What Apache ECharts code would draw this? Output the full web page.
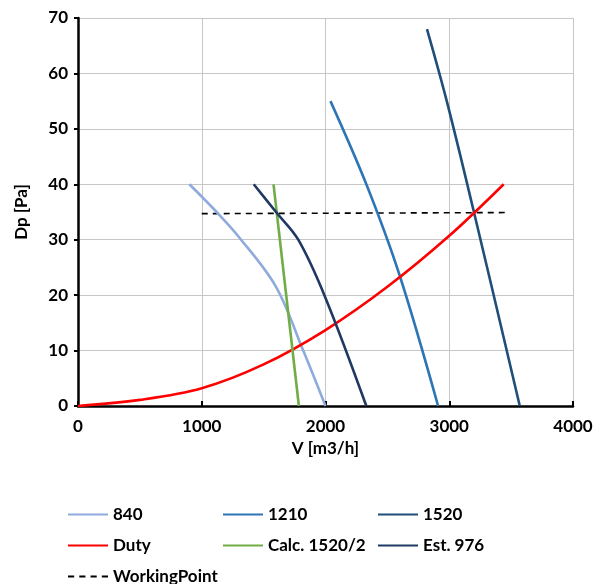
<!DOCTYPE html>
<html>
<head>
<meta charset="utf-8">
<script src="https://cdn.jsdelivr.net/npm/echarts@6/dist/echarts.min.js"></script>
<style>html,body{margin:0;padding:0;background:#fff}#c{width:602px;height:584px}</style>
</head>
<body>
<div id="c"></div>
<script>
var xTicks = [0, 1000, 2000, 3000, 4000];
var yTicks = [0, 10, 20, 30, 40, 50, 60, 70];
var s840 = [[900,40],[1120,35],[1300,30.5],[1600,21.5],[1820,10],[2000,0]];
var s1210 = [[2040,55],[2330,40],[2600,23.5],[2910,0]];
var s1520 = [[2820,68],[2980,55],[3195,35.4],[3570,0]];
var sDuty = [[0,0],[500,1.1],[1000,3.2],[1500,7.5],[2000,13.7],[2500,21.5],[3000,30.7],[3440,40]];
var sCalc = [[1580,40],[1785,0]];
var sEst = [[1420,40],[1600,35],[1780,30],[2000,19.5],[2330,0]];
var sWork = [[1000,34.7],[3480,34.9]];

var FONT = 'Lato';
var names = ['840','1210','1520','Duty','Calc. 1520/2','Est. 976','WorkingPoint'];
var colors = ['#8FAADC','#2E75B6','#1F4E79','#FF0000','#70AD47','#203864','#000000'];
var datas = [s840, s1210, s1520, sDuty, sCalc, sEst, sWork];
var legendPos = [[63,501],[218,501],[373,501],[63,532],[218,532],[373,532],[63,563]];

var series = names.map(function(n, i){
  return {
    name: n, type: 'line', data: datas[i], showSymbol: false, symbol: 'none',
    smooth: (i === 4 || i === 6) ? false : 0.35,
    lineStyle: { color: colors[i], width: i === 6 ? 1.6 : 2.6, type: i === 6 ? [6,5] : 'solid' },
    itemStyle: { color: colors[i] },
    z: i === 6 ? 1 : 2
  };
});
var legends = names.map(function(n, i){
  return {
    data: [n], left: legendPos[i][0], top: legendPos[i][1], itemWidth: 40, itemHeight: 14, itemGap: 6,
    icon: 'path://M0,6L40,6L40,8L0,8Z',
    textStyle: { fontFamily: FONT, fontWeight: 'bold', fontSize: 17, color: '#000' },
    selectedMode: false
  };
});
legends[6].icon = 'path://M0,6L6,6L6,8L0,8ZM11,6L17,6L17,8L11,8ZM22,6L28,6L28,8L22,8ZM33,6L39,6L39,8L33,8Z';

var chart = echarts.init(document.getElementById('c'), null, {renderer: 'canvas'});
chart.setOption({
  animation: false,
  backgroundColor: '#fff',
  grid: { left: 78, right: 29, top: 18, bottom: 178, containLabel: false },
  legend: legends,
  xAxis: {
    type: 'value', min: xTicks[0], max: xTicks[xTicks.length-1], interval: 1000,
    name: 'V [m3/h]', nameLocation: 'middle', nameGap: 33,
    nameTextStyle: { fontFamily: FONT, fontWeight: 'bold', fontSize: 17, color: '#000' },
    axisLine: { lineStyle: { color: '#000', width: 2.5 } },
    axisTick: { show: true, inside: true, length: 5, lineStyle: { color: '#000', width: 2 } },
    axisLabel: { fontFamily: FONT, fontWeight: 'bold', fontSize: 17, color: '#000', margin: 12,
      formatter: function(v){ return String(v); } },
    splitLine: { show: true, lineStyle: { color: '#c6c6c6', width: 1 } }
  },
  yAxis: {
    type: 'value', min: yTicks[0], max: yTicks[yTicks.length-1], interval: 10,
    name: 'Dp [Pa]', nameLocation: 'middle', nameGap: 48, nameRotate: 90,
    nameTextStyle: { fontFamily: FONT, fontWeight: 'bold', fontSize: 17, color: '#000' },
    axisLine: { show: true, lineStyle: { color: '#000', width: 2.5 } },
    axisTick: { show: true, length: 4, lineStyle: { color: '#000', width: 2 } },
    axisLabel: { fontFamily: FONT, fontWeight: 'bold', fontSize: 17, color: '#000', margin: 10,
      formatter: function(v){ return String(v); } },
    splitLine: { show: true, lineStyle: { color: '#c6c6c6', width: 1 } }
  },
  series: series
});
</script>
</body>
</html>
